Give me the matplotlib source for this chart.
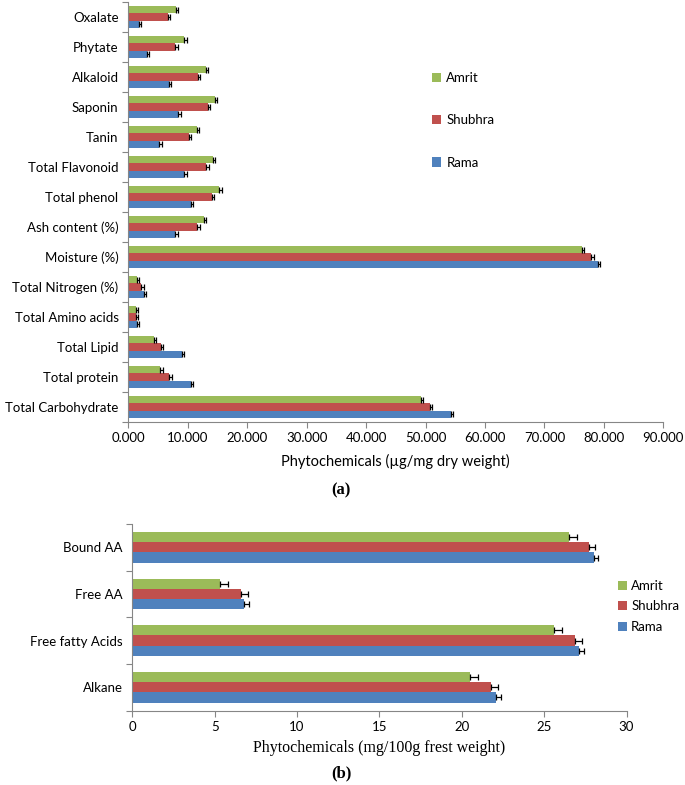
import numpy as np
import matplotlib
matplotlib.use("Agg")
import matplotlib.pyplot as plt
from matplotlib.ticker import FormatStrFormatter, FixedLocator

plt.rcParams['font.family'] = ['Lato', 'DejaVu Sans']

# chart (a) - read top to bottom
labels_a = ["Oxalate", "Phytate", "Alkaloid", "Saponin", "Tanin", "Total Flavonoid",
            "Total phenol", "Ash content (%)", "Moisture (%)", "Total Nitrogen (%)",
            "Total Amino acids", "Total Lipid", "Total protein", "Total Carbohydrate"]
amrit_a = [8.0, 9.4, 13.0, 14.6, 11.5, 14.2, 15.3, 12.7, 76.3, 1.5, 1.3, 4.3, 5.4, 49.2]
shubhra_a = [6.6, 7.9, 11.7, 13.4, 10.2, 13.1, 14.1, 11.6, 77.9, 2.2, 1.3, 5.5, 6.9, 50.7]
rama_a = [1.8, 3.1, 6.8, 8.4, 5.2, 9.4, 10.5, 7.9, 79.0, 2.6, 1.4, 9.0, 10.5, 54.3]
amrit_a_err = [0.4, 0.4, 0.4, 0.4, 0.4, 0.4, 0.4, 0.4, 0.3, 0.3, 0.3, 0.4, 0.4, 0.3]
shubhra_a_err = [0.4, 0.4, 0.4, 0.4, 0.4, 0.4, 0.4, 0.4, 0.4, 0.4, 0.4, 0.4, 0.4, 0.4]
rama_a_err = [0.4, 0.4, 0.4, 0.4, 0.4, 0.4, 0.4, 0.4, 0.4, 0.4, 0.4, 0.4, 0.4, 0.4]

# chart (b)
labels_b = ["Bound AA", "Free AA", "Free fatty Acids", "Alkane"]
amrit_b = [26.5, 5.3, 25.6, 20.5]
shubhra_b = [27.7, 6.6, 26.9, 21.8]
rama_b = [28.0, 6.8, 27.1, 22.1]
amrit_b_err = [0.5, 0.5, 0.5, 0.5]
shubhra_b_err = [0.4, 0.4, 0.4, 0.4]
rama_b_err = [0.3, 0.3, 0.3, 0.3]

series = ["Amrit", "Shubhra", "Rama"]
colors = ["#9BBB59", "#C0504D", "#4F81BD"]
grey = "#868686"

W, H = 685, 785
fig = plt.figure(figsize=(W / 100, H / 100), dpi=100)


def box(x0, y0, x1, y1):
    return [x0 / W, 1 - y1 / H, (x1 - x0) / W, (y1 - y0) / H]


def draw(ax, labels, vals, errs, bh, fs):
    n = len(labels)
    y = np.arange(n)[::-1]  # first label at top
    offs = [bh, 0, -bh]
    for v, e, c, o, name in zip(vals, errs, colors, offs, series):
        ax.barh(y + o, v, height=bh, color=c, label=name, zorder=2,
                xerr=[np.zeros(n), e], error_kw=dict(ecolor='black', elinewidth=0.9,
                                                      capsize=2.2, capthick=0.9, zorder=3))
    ax.set_ylim(-0.5, n - 0.5)
    ax.set_yticks(y)
    ax.set_yticklabels(labels, fontsize=fs)
    ax.tick_params(axis='y', which='major', length=0, pad=7)
    ax.yaxis.set_minor_locator(FixedLocator(np.arange(n + 1) - 0.5))
    ax.tick_params(axis='y', which='minor', length=4, color=grey, width=0.8)
    ax.tick_params(axis='x', length=4, color=grey, width=0.8, labelsize=fs)
    for s in ['top', 'right']:
        ax.spines[s].set_visible(False)
    for s in ['left', 'bottom']:
        ax.spines[s].set_color(grey)
        ax.spines[s].set_linewidth(0.8)


ax1 = fig.add_axes(box(128.3, 2, 663.3, 422))
draw(ax1, labels_a, [amrit_a, shubhra_a, rama_a],
     [amrit_a_err, shubhra_a_err, rama_a_err], 0.235, 9.5)
ax1.set_xlim(0, 90)
ax1.set_xticks(np.arange(0, 91, 10))
ax1.xaxis.set_major_formatter(FormatStrFormatter('%.3f'))
ax1.set_xlabel("Phytochemicals (µg/mg dry weight)", fontsize=10.5, labelpad=7)
ax1.legend(loc='upper left', bbox_to_anchor=(420 / W, 1 - 60 / H),
           bbox_transform=fig.transFigure, frameon=False, fontsize=9.5,
           labelspacing=2.3, handlelength=0.7, handleheight=0.7, handletextpad=0.4)

fig.text(341 / W, 1 - 490 / H, "(a)", ha='center', va='center',
         family='Liberation Serif', fontweight='bold', fontsize=12)

ax2 = fig.add_axes(box(132.3, 524, 626.5, 710.5))
draw(ax2, labels_b, [amrit_b, shubhra_b, rama_b],
     [amrit_b_err, shubhra_b_err, rama_b_err], 0.22, 9.5)
ax2.set_xlim(0, 30)
ax2.set_xticks(np.arange(0, 31, 5))
ax2.set_xlabel("Phytochemicals (mg/100g frest weight)", fontsize=11.5,
               family='Liberation Serif', labelpad=5)
ax2.legend(loc='upper left', bbox_to_anchor=(606 / W, 1 - 568 / H),
           bbox_transform=fig.transFigure, frameon=False, fontsize=9.5,
           labelspacing=0.65, handlelength=0.7, handleheight=0.7, handletextpad=0.3)

fig.text(341 / W, 1 - 773 / H, "(b)", ha='center', va='center',
         family='Liberation Serif', fontweight='bold', fontsize=12)

fig.savefig("out.png", dpi=100)
